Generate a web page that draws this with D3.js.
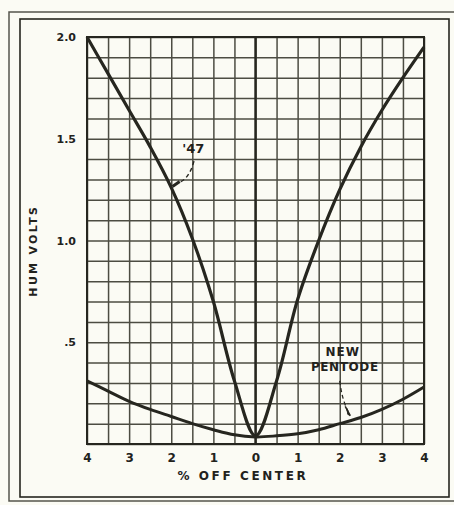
<!DOCTYPE html>
<html>
<head>
<meta charset="utf-8">
<script src="https://cdn.jsdelivr.net/npm/d3@7"></script>
<style>
  html, body { margin: 0; padding: 0; background: #fbfbf4; }
  svg { display: block; }
  .lbl { font-family: "DejaVu Sans", sans-serif; font-weight: bold; fill: #22221c; }
</style>
</head>
<body>
<svg id="chart" width="454" height="505"></svg>
<script>
// values
var offCenter = [-4, -3.5, -3, -2.5, -2, -1.5, -1, -0.5, 0, 0.5, 1, 1.5, 2, 2.5, 3, 3.5, 4];
var hum47 = [2.00, 1.82, 1.64, 1.46, 1.26, 1.01, 0.70, 0.31, 0.04, 0.31, 0.71, 1.00, 1.25, 1.46, 1.64, 1.80, 1.95];
var humPentode = [0.31, 0.26, 0.21, 0.17, 0.135, 0.10, 0.07, 0.045, 0.035, 0.04, 0.05, 0.07, 0.10, 0.13, 0.17, 0.22, 0.28];

var xTicks = [-4, -3, -2, -1, 0, 1, 2, 3, 4];
var xTickLabels = ["4", "3", "2", "1", "0", "1", "2", "3", "4"];
var yTicks = [0.5, 1.0, 1.5, 2.0];
var yTickLabels = [".5", "1.0", "1.5", "2.0"];

var ink = "#26261f";
var svg = d3.select("#chart");

// double frame round the figure
svg.append("rect").attr("x", 9).attr("y", 12).attr("width", 460).attr("height", 489)
    .attr("fill", "none").attr("stroke", "#55554c").attr("stroke-width", 1.5);
svg.append("rect").attr("x", 20).attr("y", 19).attr("width", 429).attr("height", 478)
    .attr("fill", "none").attr("stroke", ink).attr("stroke-width", 1.6);

var margin = {top: 37, left: 87, right: 30, bottom: 61},
    width = 454 - margin.left - margin.right,
    height = 505 - margin.top - margin.bottom;

var g = svg.append("g").attr("transform", "translate(" + margin.left + "," + margin.top + ")");

var x = d3.scaleLinear().domain([-4, 4]).range([0, width]);
var y = d3.scaleLinear().domain([0, 2]).range([height, 0]);

// grid: every half per cent across, every 0.1 volt up
g.append("g")
    .attr("transform", "translate(0," + height + ")")
    .call(d3.axisBottom(x).tickValues(d3.range(-4, 4.001, 0.5)).tickSize(-height).tickFormat(""))
    .call(function(a) { a.select(".domain").remove(); })
    .selectAll("line").attr("stroke", "#4c4c42").attr("stroke-width", 1.5);

g.append("g")
    .call(d3.axisLeft(y).tickValues(d3.range(0, 20.001, 1).map(function(d) { return d / 10; })).tickSize(-width).tickFormat(""))
    .call(function(a) { a.select(".domain").remove(); })
    .selectAll("line").attr("stroke", "#4c4c42").attr("stroke-width", 1.5);

// heavier zero line and border
g.append("line").attr("x1", x(0)).attr("x2", x(0)).attr("y1", 0).attr("y2", height)
    .attr("stroke", ink).attr("stroke-width", 2.4);
g.append("rect").attr("width", width).attr("height", height)
    .attr("fill", "none").attr("stroke", ink).attr("stroke-width", 2);

// tick labels
var xAxis = g.append("g")
    .attr("transform", "translate(0," + height + ")")
    .call(d3.axisBottom(x).tickValues(xTicks).tickSize(0).tickPadding(9)
        .tickFormat(function(d, i) { return xTickLabels[i]; }));
xAxis.select(".domain").remove();
xAxis.selectAll("text").attr("class", "lbl").style("font-size", "12px").attr("fill", ink);

var yAxis = g.append("g")
    .call(d3.axisLeft(y).tickValues(yTicks).tickSize(0).tickPadding(11)
        .tickFormat(function(d, i) { return yTickLabels[i]; }));
yAxis.select(".domain").remove();
yAxis.selectAll("text").attr("class", "lbl").style("font-size", "11px").attr("fill", ink);

// axis titles
g.append("text").attr("class", "lbl")
    .attr("x", x(-0.3)).attr("y", height + 36)
    .attr("text-anchor", "middle").style("font-size", "12px").style("letter-spacing", "2.6px")
    .text("%  OFF  CENTER");

g.append("text").attr("class", "lbl")
    .attr("transform", "translate(" + (-50) + "," + y(0.95) + ") rotate(-90)")
    .attr("text-anchor", "middle").style("font-size", "11px").style("letter-spacing", "2.3px")
    .text("HUM  VOLTS");

// curves
var line = d3.line()
    .curve(d3.curveCatmullRom.alpha(0.5))
    .x(function(d) { return x(d.x); })
    .y(function(d) { return y(d.v); });

function pts(vals) { return offCenter.map(function(d, i) { return {x: d, v: vals[i]}; }); }

g.append("path").datum(pts(hum47))
    .attr("d", line).attr("fill", "none").attr("stroke", ink).attr("stroke-width", 3.2);
g.append("path").datum(pts(humPentode))
    .attr("d", line).attr("fill", "none").attr("stroke", ink).attr("stroke-width", 3);

// labels with dashed leaders
g.append("text").attr("class", "lbl")
    .attr("x", x(-1.74)).attr("y", y(1.43))
    .style("font-size", "13px").text("'47");
g.append("path")
    .attr("d", "M" + x(-1.46) + "," + y(1.39) + " Q" + x(-1.58) + "," + y(1.3) + " " + x(-1.83) + "," + y(1.285))
    .attr("fill", "none").attr("stroke", ink).attr("stroke-width", 1.4).attr("stroke-dasharray", "4,3");
g.append("path")
    .attr("d", "M" + x(-1.8) + "," + y(1.29) + " L" + x(-1.97) + "," + y(1.265))
    .attr("fill", "none").attr("stroke", ink).attr("stroke-width", 3);

g.append("text").attr("class", "lbl")
    .attr("x", x(2.07)).attr("y", y(0.432))
    .attr("text-anchor", "middle").style("font-size", "12px").style("letter-spacing", "1px")
    .text("NEW");
g.append("text").attr("class", "lbl")
    .attr("x", x(2.12)).attr("y", y(0.359))
    .attr("text-anchor", "middle").style("font-size", "12px").style("letter-spacing", "0.6px")
    .text("PENTODE");
g.append("path")
    .attr("d", "M" + x(2.0) + "," + y(0.31) + " Q" + x(2.05) + "," + y(0.22) + " " + x(2.2) + "," + y(0.16))
    .attr("fill", "none").attr("stroke", ink).attr("stroke-width", 1.3).attr("stroke-dasharray", "4,3");
g.append("path")
    .attr("d", "M" + x(2.13) + "," + y(0.185) + " L" + x(2.25) + "," + y(0.14) + " L" + x(2.18) + "," + y(0.15))
    .attr("fill", ink).attr("stroke", ink).attr("stroke-width", 1.5);
</script>
</body>
</html>
